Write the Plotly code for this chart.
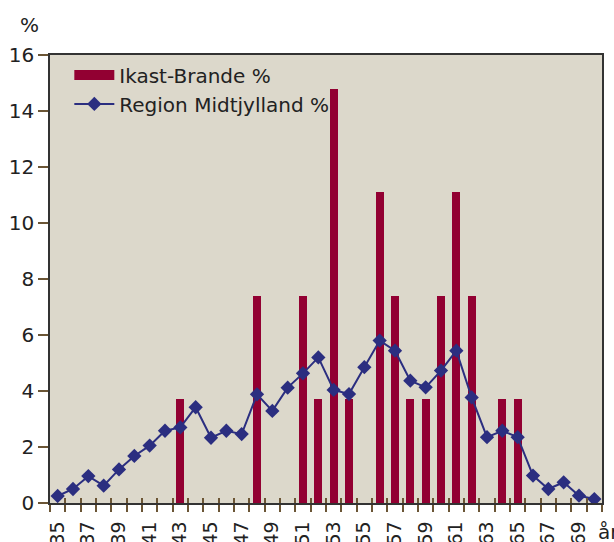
import plotly.graph_objects as go

ages = list(range(35, 71))
ikast_pct = [0, 0, 0, 0, 0, 0, 0, 0, 3.7, 0, 0, 0, 0, 7.4, 0, 0,
             7.4, 3.7, 14.8, 3.7, 0, 11.1, 7.4, 3.7, 3.7, 7.4, 11.1, 7.4,
             0, 3.7, 3.7, 0, 0, 0, 0, 0]
region_pct = [0.25, 0.5, 0.96, 0.62, 1.2, 1.68, 2.05, 2.58, 2.7, 3.42, 2.33,
              2.58, 2.46, 3.88, 3.29, 4.12, 4.63, 5.2, 4.04, 3.89, 4.85, 5.8,
              5.44, 4.37, 4.13, 4.73, 5.44, 3.77, 2.35, 2.58, 2.35, 0.98, 0.5,
              0.74, 0.26, 0.14]
tick_ages = list(range(35, 70, 2))
y_ticks = list(range(0, 17, 2))
boundaries = [a - 0.5 for a in ages] + [ages[-1] + 0.5]

FONT = "DejaVu Sans"
TICK_COL = "#6b5535"
BAR_COL = "#920032"
LINE_COL = "#2b2e80"
FS = 20

fig = go.Figure()
fig.add_trace(go.Bar(x=ages, y=ikast_pct, name="Ikast-Brande %", showlegend=False,
                     marker=dict(color=BAR_COL, line=dict(width=0)), width=0.52))
# legend entry with wide rectangular swatch for the bars
fig.add_trace(go.Scatter(x=[None], y=[None], name="Ikast-Brande %", mode="lines",
                         line=dict(color=BAR_COL, width=12)))
fig.add_trace(go.Scatter(x=ages, y=region_pct, name="Region Midtjylland %",
                         mode="lines+markers",
                         line=dict(color=LINE_COL, width=2),
                         marker=dict(symbol="diamond", size=11, color=LINE_COL)))
fig.add_trace(go.Scatter(x=[ages[0]], y=[0], xaxis="x2", mode="markers",
                         marker=dict(opacity=0), showlegend=False, hoverinfo="skip"))

fig.update_layout(
    width=614, height=542,
    margin=dict(l=50, r=12, t=55, b=39, autoexpand=False),
    paper_bgcolor="white", plot_bgcolor="#dcd8cb",
    font=dict(family=FONT, size=FS, color="#222222"),
    bargap=0,
    showlegend=True,
    legend=dict(x=0.035, y=0.999, xanchor="left", yanchor="top",
                bgcolor="rgba(0,0,0,0)", font=dict(size=FS, family=FONT),
                tracegroupgap=0, itemwidth=40),
    xaxis=dict(range=[34.5, 70.5], tickvals=tick_ages, automargin=False,
               ticktext=[str(a) for a in tick_ages], tickangle=-90,
               ticks="", ticklabelstandoff=9, showgrid=False, zeroline=False,
               showline=True, linecolor="#333333", linewidth=1.5, mirror=True,
               tickfont=dict(size=19),
               minor=dict(tickvals=boundaries, ticks="outside", ticklen=7,
                          tickcolor=TICK_COL, tickwidth=1.5, showgrid=False)),
    xaxis2=dict(range=[34.5, 70.5], overlaying="x", side="bottom", anchor="y",
                automargin=False, showticklabels=False, tickvals=boundaries,
                ticks="inside", ticklen=5, tickcolor=TICK_COL, tickwidth=1.5,
                showgrid=False, zeroline=False, showline=False),
    yaxis=dict(range=[0, 16], tickvals=y_ticks, ticks="outside", ticklen=10,
               tickcolor=TICK_COL, tickwidth=1.5, showgrid=False, zeroline=False,
               automargin=False,
               showline=True, linecolor="#333333", linewidth=1.5, mirror=True,
               tickfont=dict(size=FS)),
    annotations=[
        dict(text="%", x=-0.038, y=1.0, xref="paper", yref="paper",
             xanchor="center", yanchor="middle", showarrow=False,
             font=dict(size=FS, family=FONT), yshift=30),
        dict(text="år", x=1.0, y=0, xref="paper", yref="paper",
             xanchor="left", yanchor="middle", showarrow=False,
             font=dict(size=FS, family=FONT), xshift=-6, yshift=-29),
    ],
)

fig.write_html("out.html", config={"displayModeBar": False},
               post_script="document.body.style.margin='0px';")
